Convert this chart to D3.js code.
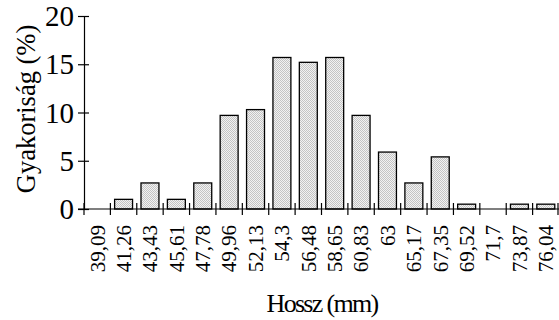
<!DOCTYPE html>
<html>
<head>
<meta charset="utf-8">
<script src="https://cdn.jsdelivr.net/npm/d3@7/dist/d3.min.js"></script>
<style>
  body { margin: 0; background: #fff; }
  svg { display: block; }
  text { font-family: "Liberation Serif", "Times New Roman", serif; fill: #000; }
</style>
</head>
<body>
<svg id="chart" width="559" height="320"></svg>
<script>
// length classes (mm) and frequency (%)
const categories = ['39,09', '41,26', '43,43', '45,61', '47,78', '49,96', '52,13', '54,3', '56,48',
  '58,65', '60,83', '63', '65,17', '67,35', '69,52', '71,7', '73,87', '76,04'];
const frequency = [0, 1.0, 2.7, 1.0, 2.7, 9.7, 10.3, 15.7, 15.2, 15.7, 9.7, 5.9, 2.7, 5.4, 0.5, 0, 0.5, 0.5];
const yTicks = [0, 5, 10, 15, 20];

const margin = { top: 16, right: 0, bottom: 111, left: 84 };
const width = 559 - margin.left - margin.right;
const height = 320 - margin.top - margin.bottom;

const svg = d3.select('#chart');

// stippled fill like the original
const defs = svg.append('defs');
const pat = defs.append('pattern')
  .attr('id', 'dots')
  .attr('width', 2)
  .attr('height', 2)
  .attr('patternUnits', 'userSpaceOnUse');
pat.append('rect').attr('width', 2).attr('height', 2).attr('fill', '#f2f2f2');
pat.append('rect').attr('width', 1).attr('height', 1).attr('fill', '#c4c4c4');
pat.append('rect').attr('x', 1).attr('y', 1).attr('width', 1).attr('height', 1).attr('fill', '#c4c4c4');

const g = svg.append('g')
  .attr('transform', `translate(${margin.left},${margin.top})`);

const x = d3.scaleBand()
  .domain(categories)
  .range([0, width])
  .paddingInner(0.32)
  .paddingOuter(0.16);

const y = d3.scaleLinear()
  .domain([0, 20])
  .range([height, 0]);

// bars
g.selectAll('.bar')
  .data(categories)
  .enter().append('rect')
  .attr('class', 'bar')
  .filter((d, i) => frequency[i] > 0)
  .attr('x', d => x(d))
  .attr('width', x.bandwidth())
  .attr('y', (d) => y(frequency[categories.indexOf(d)]))
  .attr('height', (d) => height - y(frequency[categories.indexOf(d)]))
  .attr('fill', 'url(#dots)')
  .attr('stroke', '#000')
  .attr('stroke-width', 1.3);

// y axis (labels drawn separately so they take the serif style)
const yAxis = g.append('g')
  .call(d3.axisLeft(y).tickValues(yTicks).tickSize(6).tickFormat(''));
yAxis.select('.domain').attr('stroke', '#000').attr('stroke-width', 1.2);
yAxis.selectAll('.tick line').attr('x1', -6).attr('x2', 5).attr('stroke', '#000').attr('stroke-width', 1.2);

g.selectAll('.ylabel')
  .data(yTicks)
  .enter().append('text')
  .attr('class', 'ylabel')
  .attr('x', -10)
  .attr('y', d => y(d))
  .attr('dy', '0.35em')
  .attr('text-anchor', 'end')
  .style('font-size', '29px')
  .text(d => d);

// x axis line and boundary ticks
const step = x.step();
const bounds = d3.range(categories.length + 1).map(i => i * step);
g.append('line')
  .attr('x1', -6).attr('x2', width)
  .attr('y1', height).attr('y2', height)
  .attr('stroke', '#000').attr('stroke-width', 1.2);
g.selectAll('.xtick')
  .data(bounds)
  .enter().append('line')
  .attr('class', 'xtick')
  .attr('x1', d => Math.min(d, width - 1)).attr('x2', d => Math.min(d, width - 1))
  .attr('y1', height - 6).attr('y2', height + 6)
  .attr('stroke', '#000').attr('stroke-width', 1.2);

// x labels, rotated
g.selectAll('.xlabel')
  .data(categories)
  .enter().append('text')
  .attr('class', 'xlabel')
  .attr('transform', d => `translate(${x(d) + x.bandwidth() / 2},${height + 16}) rotate(-90)`)
  .attr('text-anchor', 'end')
  .attr('dy', '0.35em')
  .style('font-size', '21px')
  .text(d => d);

// axis titles
svg.append('text')
  .attr('transform', 'translate(35,109) rotate(-90)')
  .attr('text-anchor', 'middle')
  .style('font-size', '26.5px')
  .text('Gyakoriság (%)');

svg.append('text')
  .attr('x', 322)
  .attr('y', 312)
  .attr('text-anchor', 'middle')
  .style('font-size', '26px')
  .style('letter-spacing', '-1.7px')
  .text('Hossz (mm)');
</script>
</body>
</html>
